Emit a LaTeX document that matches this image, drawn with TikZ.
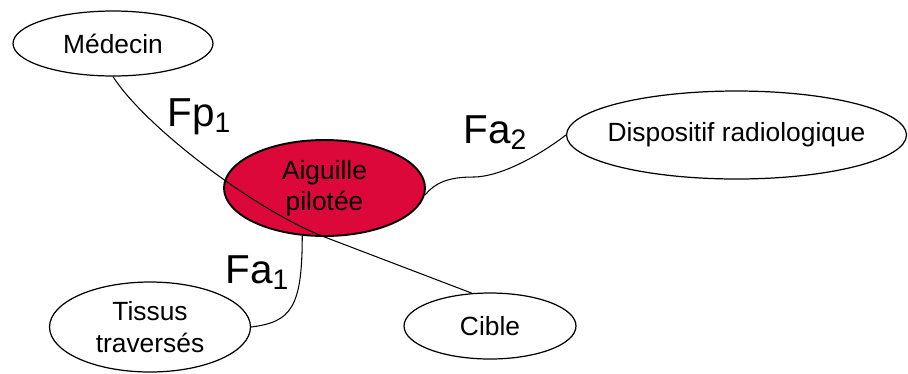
\documentclass[tikz,border=0pt]{standalone}
\usepackage{fontspec}
\setmainfont{Liberation Sans}
\usetikzlibrary{shapes.geometric,positioning}
\definecolor{rougeaiguille}{RGB}{220,8,58}
\tikzstyle{acteur} = [draw, ellipse, line width=0.7pt, inner sep=0pt, inner xsep=-1cm, align=center, font=\fontsize{15}{18}\selectfont]
\tikzstyle{aiguille} = [acteur, fill=rougeaiguille, line width=1.1pt]
\tikzstyle{lien} = [draw, line width=0.6pt]
\tikzstyle{effort} = [anchor=base west, inner sep=0pt, font=\fontsize{23}{27}\selectfont]
\newcommand{\acteur}[4]{node (#1) [acteur, minimum width=#2, minimum height=#3] {#4}}
\newcommand{\effort}[2]{node (#1) [effort] {#2}}

\begin{document}
\begin{tikzpicture}[x=0.02cm,y=-0.02cm]
\useasboundingbox (0,0) rectangle (908,373);
\path (324.5,188) node (aig) [aiguille, minimum width=4.02cm, minimum height=1.92cm] {Aiguille\\pilotée};
\path (aig)+(-211.5,-144.5) \acteur{med}{4cm}{1.3cm}{Médecin};
\path (aig)+(-174.5,139) \acteur{tis}{4.02cm}{1.8cm}{Tissus\\traversés};
\path (aig)+(165.5,138) \acteur{cib}{3.44cm}{1.32cm}{Cible};
\path (aig)+(412,-53) \acteur{dis}{6.8cm}{1.76cm}{Dispositif radiologique};

\path [lien] (med.south) .. controls +(32,50) and +(-70,-27) .. (aig.south) -- (cib.119);
\path [lien] (aig.-4) .. controls +(10,-12) and +(-25,0) .. ++(48,-18)
  .. controls +(30,0) and +(-22,17) .. (dis.west);
\path [lien] (aig.-115) .. controls +(0,72) and +(40,-5) .. (tis.east);

\path (167,126) \effort{fp1}{Fp\textsubscript{1}};
\path (225,283) \effort{fa1}{Fa\textsubscript{1}};
\path (463,143) \effort{fa2}{Fa\textsubscript{2}};
\end{tikzpicture}
\end{document}
